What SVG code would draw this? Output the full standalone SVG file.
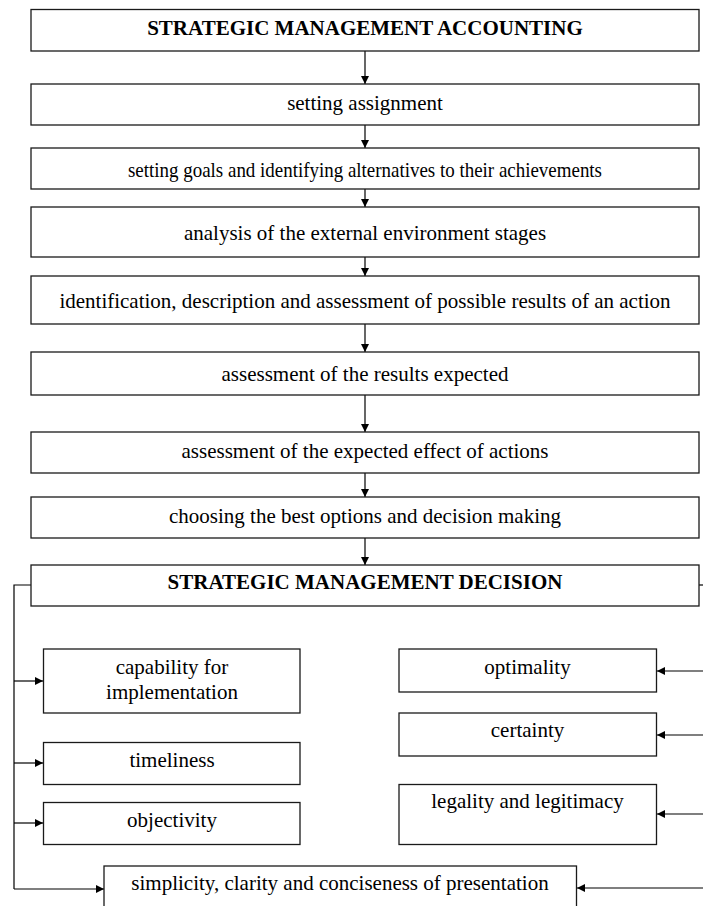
<svg xmlns="http://www.w3.org/2000/svg" width="703" height="906" viewBox="0 0 703 906">
<style>
.box{fill:#fff;stroke:#1a1a1a;stroke-width:1.3}
.t{font-family:"Liberation Serif","Times New Roman",serif;font-size:21px;fill:#000;text-anchor:middle}
.b{font-weight:bold;font-size:21px}
.c{fill:none;stroke:#000;stroke-width:1.2}
</style>
<defs>
<marker id="ah" viewBox="0 0 10 10" refX="10" refY="5" markerWidth="8" markerHeight="8" markerUnits="userSpaceOnUse" orient="auto">
<path d="M0,0 L10,5 L0,10 z" fill="#000"/>
</marker>
</defs>
<rect width="703" height="906" fill="#fff"/>
<g id="connectors">
<line class="c" x1="365" y1="51" x2="365" y2="84" marker-end="url(#ah)"/>
<line class="c" x1="365" y1="125" x2="365" y2="148" marker-end="url(#ah)"/>
<line class="c" x1="365" y1="189" x2="365" y2="207" marker-end="url(#ah)"/>
<line class="c" x1="365" y1="257" x2="365" y2="276" marker-end="url(#ah)"/>
<line class="c" x1="365" y1="324" x2="365" y2="352" marker-end="url(#ah)"/>
<line class="c" x1="365" y1="395" x2="365" y2="432" marker-end="url(#ah)"/>
<line class="c" x1="365" y1="473" x2="365" y2="497" marker-end="url(#ah)"/>
<line class="c" x1="365" y1="538" x2="365" y2="565" marker-end="url(#ah)"/>
<polyline class="c" points="31,585 14,585 14,889"/>
<line class="c" x1="14" y1="681" x2="43" y2="681" marker-end="url(#ah)"/>
<line class="c" x1="14" y1="763" x2="43" y2="763" marker-end="url(#ah)"/>
<line class="c" x1="14" y1="823" x2="43" y2="823" marker-end="url(#ah)"/>
<line class="c" x1="14" y1="889" x2="104" y2="889" marker-end="url(#ah)"/>
<line class="c" x1="699" y1="585" x2="703" y2="585"/>
<line class="c" x1="703" y1="671" x2="657" y2="671" marker-end="url(#ah)"/>
<line class="c" x1="703" y1="735" x2="657" y2="735" marker-end="url(#ah)"/>
<line class="c" x1="703" y1="814" x2="657" y2="814" marker-end="url(#ah)"/>
<line class="c" x1="703" y1="888" x2="577" y2="888" marker-end="url(#ah)"/>
</g>
<g id="n1"><rect class="box" x="31" y="9.5" width="668" height="41.5"/><text class="t b" x="365" y="35">STRATEGIC MANAGEMENT ACCOUNTING</text></g>
<g id="n2"><rect class="box" x="31" y="84" width="668" height="41"/><text class="t" x="365" y="109.5">setting assignment</text></g>
<g id="n3"><rect class="box" x="31" y="148" width="668" height="41"/><text class="t" x="365" y="177" textLength="474" lengthAdjust="spacingAndGlyphs">setting goals and identifying alternatives to their achievements</text></g>
<g id="n4"><rect class="box" x="31" y="207" width="668" height="50"/><text class="t" x="365" y="240">analysis of the external environment stages</text></g>
<g id="n5"><rect class="box" x="31" y="276" width="668" height="48"/><text class="t" x="365" y="308">identification, description and assessment of possible results of an action</text></g>
<g id="n6"><rect class="box" x="31" y="352" width="668" height="43"/><text class="t" x="365" y="381">assessment of the results expected</text></g>
<g id="n7"><rect class="box" x="31" y="432" width="668" height="41"/><text class="t" x="365" y="457.5">assessment of the expected effect of actions</text></g>
<g id="n8"><rect class="box" x="31" y="497" width="668" height="41"/><text class="t" x="365" y="522.5">choosing the best options and decision making</text></g>
<g id="n9"><rect class="box" x="31" y="565" width="668" height="41"/><text class="t b" x="365" y="589">STRATEGIC MANAGEMENT DECISION</text></g>
<g id="n10"><rect class="box" x="43.5" y="649" width="256.5" height="64"/><text class="t" x="172" y="674">capability for</text><text class="t" x="172" y="699">implementation</text></g>
<g id="n11"><rect class="box" x="43.5" y="742.5" width="256.5" height="42"/><text class="t" x="172" y="767">timeliness</text></g>
<g id="n12"><rect class="box" x="43.5" y="802.5" width="256.5" height="42"/><text class="t" x="172" y="827">objectivity</text></g>
<g id="n13"><rect class="box" x="399" y="649" width="257.5" height="43"/><text class="t" x="527.5" y="674">optimality</text></g>
<g id="n14"><rect class="box" x="399" y="713" width="257.5" height="43"/><text class="t" x="527.5" y="737">certainty</text></g>
<g id="n15"><rect class="box" x="399" y="784.5" width="257.5" height="60"/><text class="t" x="527.5" y="808">legality and legitimacy</text></g>
<g id="n16"><rect class="box" x="104" y="866" width="472.5" height="50"/><text class="t" x="340" y="890">simplicity, clarity and conciseness of presentation</text></g>
</svg>
